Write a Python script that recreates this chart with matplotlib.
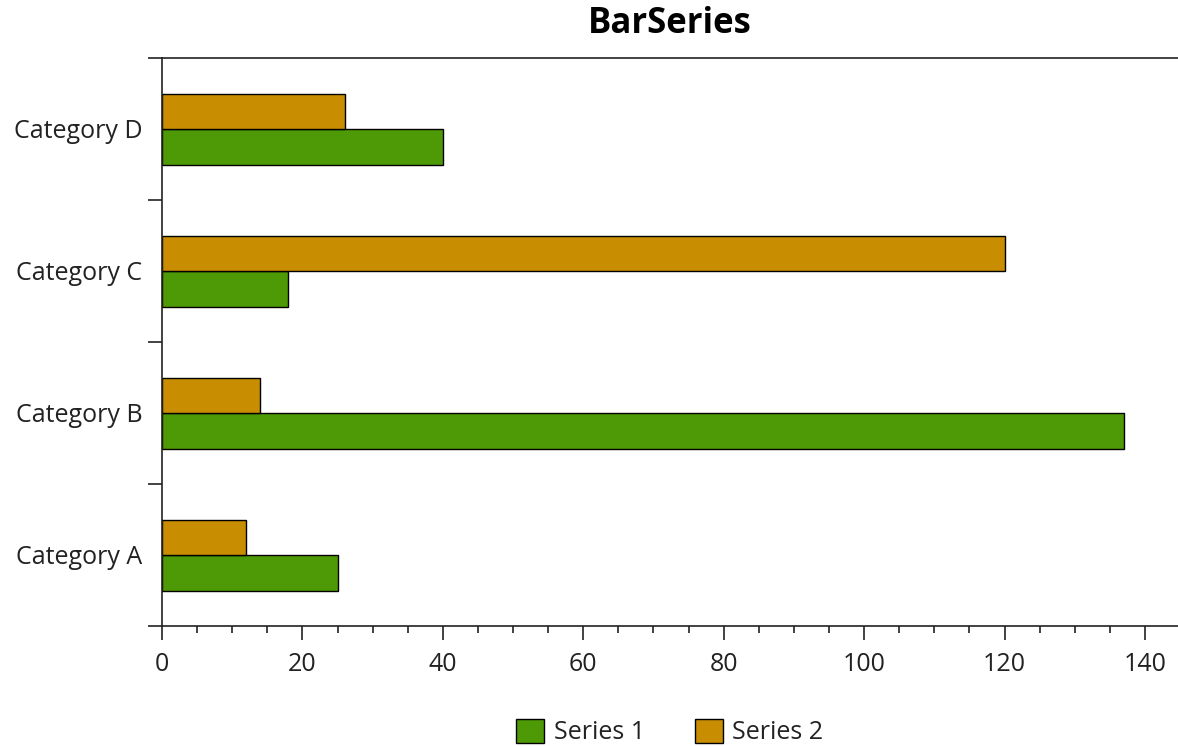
import matplotlib
matplotlib.use('Agg')
import matplotlib.pyplot as plt
import numpy as np
from matplotlib.ticker import MultipleLocator, FixedLocator

plt.rcParams['font.family'] = ['Open Sans', 'DejaVu Sans']

categories = ['Category A', 'Category B', 'Category C', 'Category D']
series1 = [25, 137, 18, 40]
series2 = [12, 14, 120, 26]
series_names = ['Series 1', 'Series 2']
colors = ['#4E9A06', '#C88D00']

W, H = 1178, 746
fig = plt.figure(figsize=(W / 100, H / 100), dpi=100)
ax = fig.add_axes([162 / W, 1 - 626 / H, (W - 162) / W, (626 - 58) / H])

y = np.arange(len(categories))
bh = 0.25
ax.barh(y - bh / 2, series1, height=bh, color=colors[0], edgecolor='black', linewidth=1.0, label=series_names[0])
ax.barh(y + bh / 2, series2, height=bh, color=colors[1], edgecolor='black', linewidth=1.0, label=series_names[1])

ax.set_xlim(0, 144.7)
ax.set_ylim(-0.5, len(categories) - 0.5)

line_c = '#222222'
lw = 1.2
ax.spines['right'].set_visible(False)
for s in ['left', 'bottom', 'top']:
    ax.spines[s].set_color(line_c)
    ax.spines[s].set_linewidth(lw)

ax.xaxis.set_major_locator(MultipleLocator(20))
ax.xaxis.set_minor_locator(MultipleLocator(5))
ax.tick_params(axis='x', which='major', length=10, width=lw, color=line_c, pad=9,
               labelsize=18, labelcolor='#222222')
ax.tick_params(axis='x', which='minor', length=5, width=lw, color=line_c)

ax.yaxis.set_major_locator(FixedLocator(np.arange(-0.5, len(categories), 1.0)))
ax.yaxis.set_minor_locator(FixedLocator(y))
ax.set_yticklabels([], minor=False)
ax.set_yticklabels(categories, minor=True)
ax.tick_params(axis='y', which='major', length=10, width=lw, color=line_c)
ax.tick_params(axis='y', which='minor', length=0, pad=14, labelsize=18, labelcolor='#222222')

fig.text((162 + W) / 2 / W, 1 - 24 / H, 'BarSeries', ha='center', va='center',
         fontsize=25, fontweight='bold', color='black')

fig.legend(loc='center', bbox_to_anchor=((162 + W) / 2 / W, 1 - 732 / H), ncol=2,
           frameon=False, fontsize=18, handlelength=1.1, handleheight=1.1,
           handletextpad=0.4, columnspacing=2.0, labelcolor='#222222')

fig.savefig('out.png', dpi=100)
